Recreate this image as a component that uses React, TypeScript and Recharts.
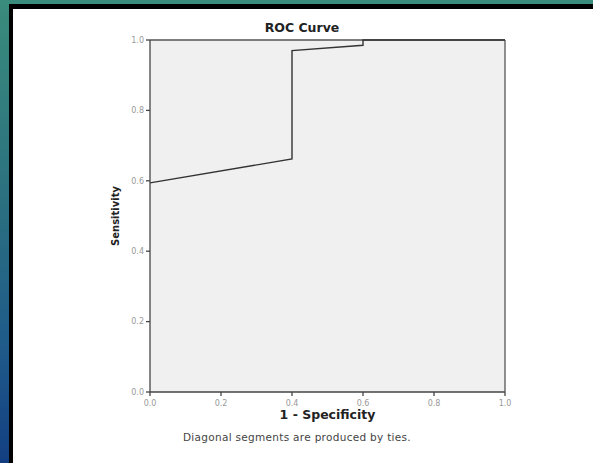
import React from 'react';
import { LineChart, Line, XAxis, YAxis, CartesianGrid, ReferenceLine } from 'recharts';

const fpr = [0, 0.4, 0.4, 0.6, 0.6, 1.0];
const tpr = [0.594, 0.662, 0.97, 0.985, 1.0, 1.0];
const axisTicks = [0, 0.2, 0.4, 0.6, 0.8, 1.0];
const titleText = 'ROC Curve';
const xLabel = '1 - Specificity';
const yLabel = 'Sensitivity';
const footnote = 'Diagonal segments are produced by ties.';

const data = fpr.map((x, i) => ({ x, y: tpr[i] }));

const font = '"DejaVu Sans", Verdana, sans-serif';

export default function App() {
  return (
    <div style={{ position: 'absolute', left: 0, top: 0, width: 593, height: 463, overflow: 'hidden',
      background: 'linear-gradient(180deg, #3a8c7c 0%, #2a6f80 45%, #1f5a8a 75%, #133f82 100%)', fontFamily: font }}>
      <div style={{ position: 'absolute', left: 9, top: 4, right: 0, bottom: 0, background: '#000' }} />
      <div style={{ position: 'absolute', left: 13, top: 9, right: 0, bottom: 0, background: '#fff' }} />
      <div style={{ position: 'absolute', left: 0, top: 0 }}>
        <LineChart width={593} height={463} data={data}
          margin={{ top: 40, right: 88, bottom: 41, left: 110 }}>
          <CartesianGrid horizontal={false} vertical={false} fill="#f0f0f0" stroke="none" />
          <XAxis type="number" dataKey="x" domain={[0, 1]} ticks={axisTicks} height={30}
            tickFormatter={(v: number) => v.toFixed(1)}
            stroke="#444" strokeWidth={1.3} tickSize={4}
            tick={{ fill: '#999', fontSize: 8, fontFamily: font, dy: 2 }}
            label={{ value: xLabel, position: 'insideBottom', offset: 3, fill: '#222', fontSize: 12.5, fontWeight: 'bold', fontFamily: font }} />
          <YAxis type="number" dataKey="y" domain={[0, 1]} ticks={axisTicks} width={40}
            tickFormatter={(v: number) => v.toFixed(1)}
            stroke="#444" strokeWidth={1.3} tickSize={4}
            tick={{ fill: '#999', fontSize: 8, fontFamily: font }}
            label={{ value: yLabel, angle: -90, position: 'insideLeft', offset: 5, fill: '#222', fontSize: 10, fontWeight: 'bold', fontFamily: font, style: { textAnchor: 'middle' } }} />
          <ReferenceLine y={1} stroke="#555" strokeWidth={1.3} ifOverflow="extendDomain" />
          <ReferenceLine x={1} stroke="#555" strokeWidth={1.3} ifOverflow="extendDomain" />
          <Line type="linear" dataKey="y" stroke="#333" strokeWidth={1.4} dot={false} isAnimationActive={false} />
        </LineChart>
      </div>
      <div style={{ position: 'absolute', left: 202, width: 200, top: 20, textAlign: 'center', fontSize: 12.5, fontWeight: 'bold', color: '#222', lineHeight: '16px' }}>{titleText}</div>
      <div style={{ position: 'absolute', left: 147, width: 300, top: 431, textAlign: 'center', fontSize: 10.5, letterSpacing: 0.3, color: '#444', lineHeight: '12px' }}>{footnote}</div>
    </div>
  );
}
